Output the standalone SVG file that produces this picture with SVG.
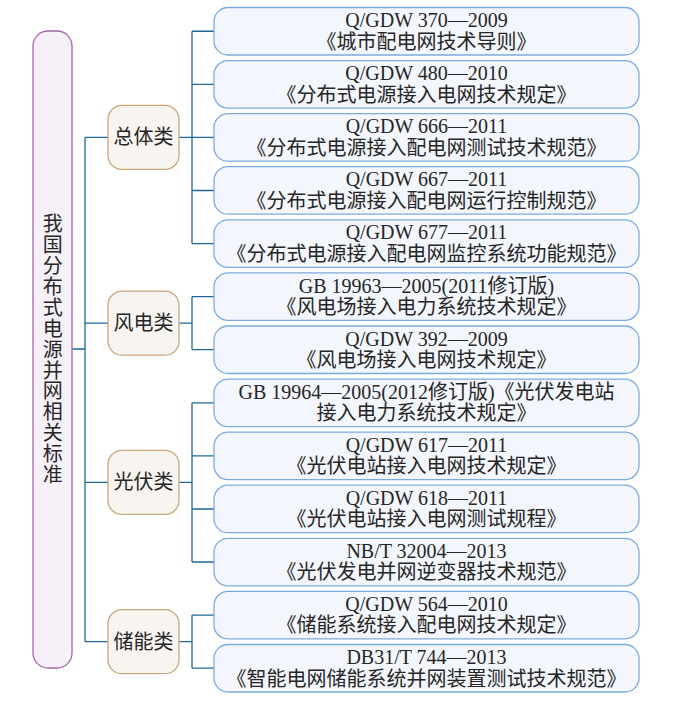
<svg xmlns="http://www.w3.org/2000/svg" width="675" height="708" viewBox="0 0 675 708">
<style>
.leaf rect{fill:#f3f6fc;stroke:#7eabdd;stroke-width:1.3}
.cat rect{fill:#f8f5f0;stroke:#c9a77e;stroke-width:1.3}
.root rect{fill:#f6f0f8;stroke:#a466ab;stroke-width:1.3}
text{font-family:"Liberation Serif","Noto Sans CJK SC",serif;font-size:20px;fill:#262626;text-anchor:middle}
.cjk{font-family:"Noto Sans CJK SC",sans-serif}
.vert{writing-mode:vertical-rl;letter-spacing:0.9px}
#connectors path{fill:none;stroke:#1f6a94;stroke-width:1.3}
</style>
<rect width="675" height="708" fill="#ffffff"/>
<g id="connectors">
<path d="M72,349 H85 M85,137.4 V641.7 M85,137.4 H108 M85,323.2 H108 M85,482.4 H108 M85,641.7 H108"/>
<path d="M179,137.4 H192 M192,31.25 V243.6 M192,31.25 H214 M192,84.3 H214 M192,137.4 H214 M192,190.5 H214 M192,243.6 H214"/>
<path d="M179,323.2 H192 M192,296.7 V349.7 M192,296.7 H214 M192,349.7 H214"/>
<path d="M179,482.4 H192 M192,402.8 V562 M192,402.8 H214 M192,455.9 H214 M192,509 H214 M192,562 H214"/>
<path d="M179,641.7 H192 M192,615.1 V668.2 M192,615.1 H214 M192,668.2 H214"/>
</g>
<g id="root" class="root">
<rect x="33" y="31" width="39" height="637" rx="15"/>
<text class="cjk vert" x="52.7" y="349.5">我国分布式电源并网相关标准</text>
</g>
<g id="cat1" class="cat"><rect x="108" y="105.4" width="71" height="64" rx="14"/><text class="cjk" x="143.5" y="144.4">总体类</text></g>
<g id="cat2" class="cat"><rect x="108" y="291.2" width="71" height="64" rx="14"/><text class="cjk" x="143.5" y="330.2">风电类</text></g>
<g id="cat3" class="cat"><rect x="108" y="450.4" width="71" height="64" rx="14"/><text class="cjk" x="143.5" y="489.4">光伏类</text></g>
<g id="cat4" class="cat"><rect x="108" y="609.7" width="71" height="64" rx="14"/><text class="cjk" x="143.5" y="648.7">储能类</text></g>
<g id="leaf1" class="leaf"><rect x="214" y="7.5" width="425" height="47.5" rx="14"/><text x="426.5" y="27">Q/GDW 370—2009</text><text x="426.5" y="48.5">《城市配电网技术导则》</text></g>
<g id="leaf2" class="leaf"><rect x="214" y="60.6" width="425" height="47.5" rx="14"/><text x="426.5" y="80.1">Q/GDW 480—2010</text><text x="426.5" y="101.6">《分布式电源接入电网技术规定》</text></g>
<g id="leaf3" class="leaf"><rect x="214" y="113.7" width="425" height="47.5" rx="14"/><text x="426.5" y="133.2">Q/GDW 666—2011</text><text x="426.5" y="154.7">《分布式电源接入配电网测试技术规范》</text></g>
<g id="leaf4" class="leaf"><rect x="214" y="166.7" width="425" height="47.5" rx="14"/><text x="426.5" y="186.3">Q/GDW 667—2011</text><text x="426.5" y="207.8">《分布式电源接入配电网运行控制规范》</text></g>
<g id="leaf5" class="leaf"><rect x="214" y="219.8" width="425" height="47.5" rx="14"/><text x="426.5" y="239.4">Q/GDW 677—2011</text><text x="426.5" y="260.9">《分布式电源接入配电网监控系统功能规范》</text></g>
<g id="leaf6" class="leaf"><rect x="214" y="272.9" width="425" height="47.5" rx="14"/><text x="426.5" y="292.5">GB 19963—2005(2011修订版)</text><text x="426.5" y="314">《风电场接入电力系统技术规定》</text></g>
<g id="leaf7" class="leaf"><rect x="214" y="326" width="425" height="47.5" rx="14"/><text x="426.5" y="345.5">Q/GDW 392—2009</text><text x="426.5" y="367">《风电场接入电网技术规定》</text></g>
<g id="leaf8" class="leaf"><rect x="214" y="379.1" width="425" height="47.5" rx="14"/><text x="426.5" y="398.6">GB 19964—2005(2012修订版)《光伏发电站</text><text x="426.5" y="420.1">接入电力系统技术规定》</text></g>
<g id="leaf9" class="leaf"><rect x="214" y="432.1" width="425" height="47.5" rx="14"/><text x="426.5" y="451.7">Q/GDW 617—2011</text><text x="426.5" y="473.2">《光伏电站接入电网技术规定》</text></g>
<g id="leaf10" class="leaf"><rect x="214" y="485.2" width="425" height="47.5" rx="14"/><text x="426.5" y="504.8">Q/GDW 618—2011</text><text x="426.5" y="526.3">《光伏电站接入电网测试规程》</text></g>
<g id="leaf11" class="leaf"><rect x="214" y="538.3" width="425" height="47.5" rx="14"/><text x="426.5" y="557.8">NB/T 32004—2013</text><text x="426.5" y="579.3">《光伏发电并网逆变器技术规范》</text></g>
<g id="leaf12" class="leaf"><rect x="214" y="591.4" width="425" height="47.5" rx="14"/><text x="426.5" y="610.9">Q/GDW 564—2010</text><text x="426.5" y="632.4">《储能系统接入配电网技术规定》</text></g>
<g id="leaf13" class="leaf"><rect x="214" y="644.5" width="425" height="47.5" rx="14"/><text x="426.5" y="664">DB31/T 744—2013</text><text x="426.5" y="685.5">《智能电网储能系统并网装置测试技术规范》</text></g>
</svg>
